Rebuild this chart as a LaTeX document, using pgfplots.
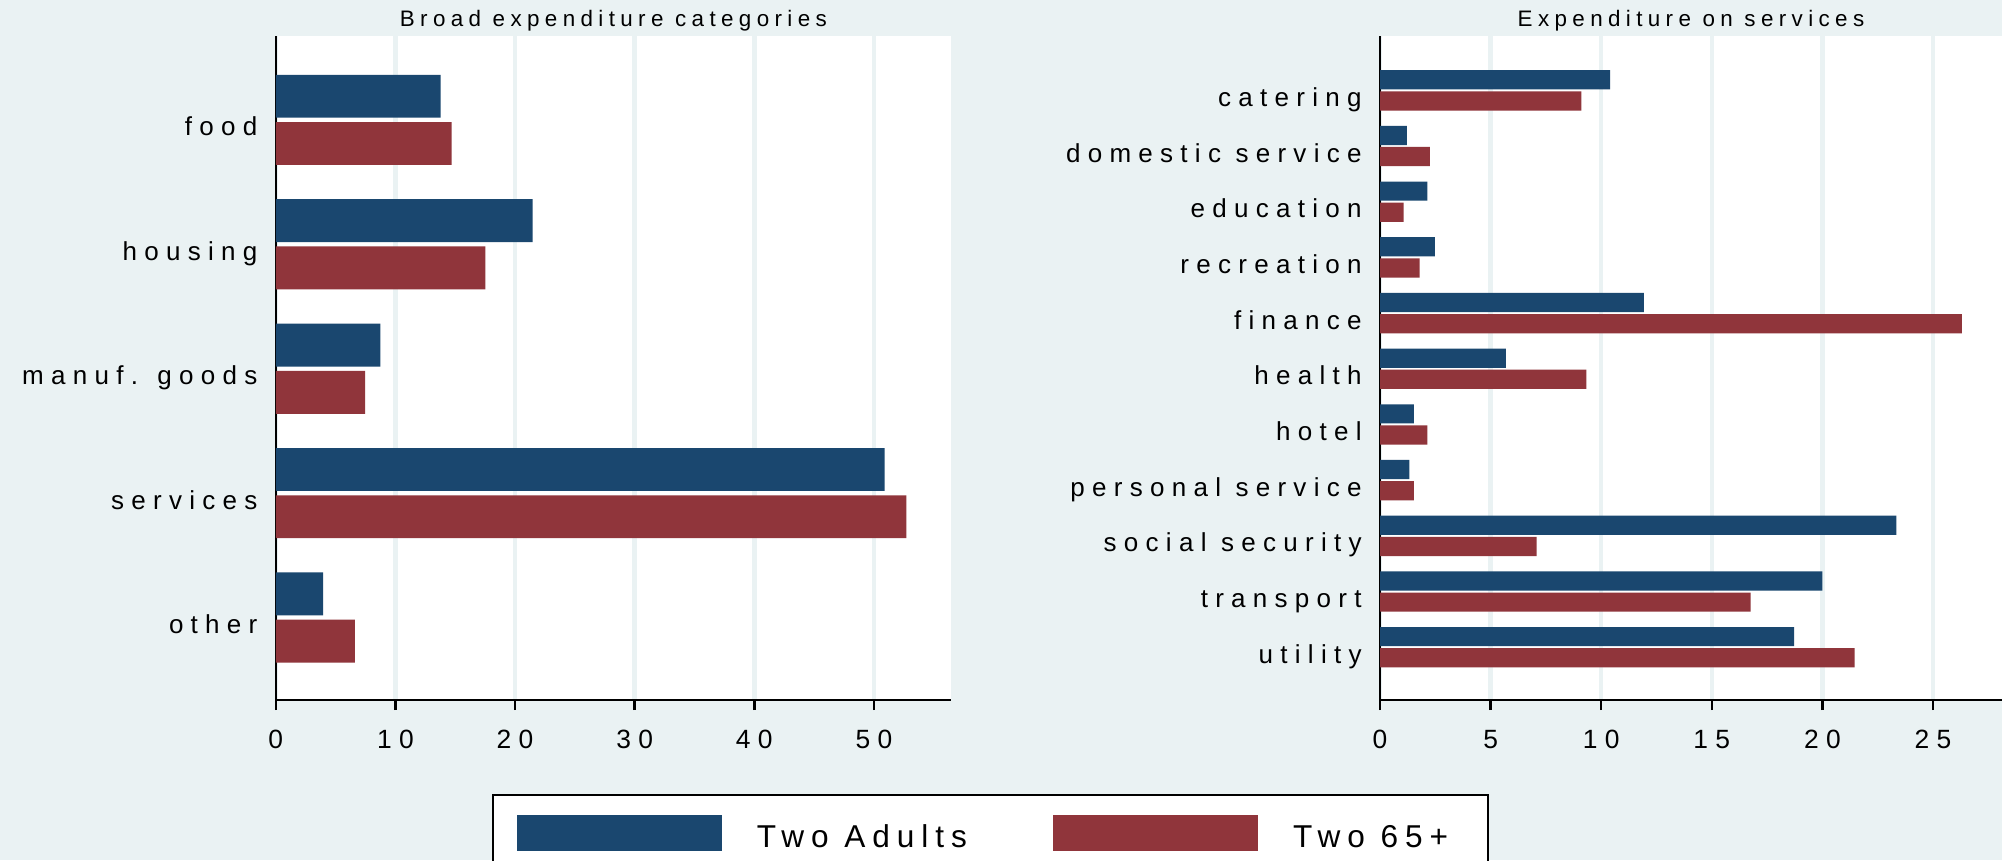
\documentclass[border=0pt]{standalone}
\usepackage{fontspec}
\setmainfont{Liberation Sans}[LetterSpace=28]
\newfontfamily\titfont{Liberation Sans}[LetterSpace=24]
\newfontfamily\legfont{Liberation Sans}[LetterSpace=22]
\usepackage{pgfplots}
\pgfplotsset{compat=1.18}
\definecolor{stnavy}{HTML}{1A476F}
\definecolor{stmaroon}{HTML}{90353B}
\definecolor{stbg}{HTML}{EAF2F3}

\pgfplotsset{
  stpanel/.style={
    scale only axis, height=166pt,
    xbar, y dir=reverse, bar width=0.345,
    enlargelimits=false, xmin=0,
    axis x line*=bottom, axis y line*=left,
    axis line style={-, black},
    x axis line style={line width=0.7pt},
    y axis line style={line width=0.6pt},
    axis background/.style={fill=white},
    xmajorgrids, major grid style={stbg, line width=1.1pt},
    tick align=outside, major tick length=2.5pt,
    xtick style={black, line width=0.6pt},
    ytick style={draw=none},
    /pgf/number format/assume math mode=true,
    xticklabel style={font=\fontsize{6.6}{7.5}\selectfont, anchor=base, inner sep=0pt, yshift=-9.5pt},
    yticklabel style={font=\fontsize{6.5}{7.5}\selectfont, anchor=base east, inner sep=0pt, xshift=-1.9pt, yshift=-4pt},
    every axis title/.style={font=\titfont\fontsize{5.6}{6.5}\selectfont, at={(0.5,1)}, anchor=base, inner sep=0pt, yshift=2.5pt},
  },
}

\begin{document}
\begin{tikzpicture}
\fill[stbg] (0,0) rectangle (500.5pt,215pt);
\useasboundingbox (0,0) rectangle (500.5pt,215pt);

% left panel
\begin{axis}[stpanel,
  at={(68.95pt,40pt)}, anchor=south west,
  width=168.8pt, xmax=56.44,
  ymin=-0.674, ymax=4.663,
  ytick={0,1,2,3,4},
  yticklabels={food, housing, manuf. goods, services, other},
  xtick={0,10,20,30,40,50},
  title={Broad expenditure categories},
  legend columns=2,
  legend cell align=left,
  legend image code/.code={\fill[#1] (0pt,-4.5pt) rectangle (51.25pt,4.5pt);},
  legend style={at={(0.3202,-0.1416)}, anchor=north west,
    draw=black, line width=0.42pt, fill=white,
    inner xsep=6pt, inner ysep=5pt,
    font=\legfont\fontsize{7.9}{9}\selectfont,
    nodes={inner sep=0pt, yshift=-1.6pt},
    /tikz/every odd column/.append style={column sep=8.75pt},
    /tikz/every even column/.append style={column sep=21.5pt}},
]
\addplot[fill=stnavy, draw=none, bar shift=-0.19] coordinates {
  (13.78,0) (21.47,1) (8.74,2) (50.9,3) (3.95,4)
};
\addplot[fill=stmaroon, draw=none, bar shift=0.19] coordinates {
  (14.69,0) (17.52,1) (7.46,2) (52.7,3) (6.62,4)
};
\legend{Two Adults, Two 65+\hspace*{4pt}}
\end{axis}

% right panel
\begin{axis}[stpanel,
  at={(345pt,40pt)}, anchor=south west,
  width=155.5pt, xmax=28.12,
  ymin=-0.975, ymax=10.948,
  ytick={0,1,2,3,4,5,6,7,8,9,10},
  yticklabels={catering, domestic service, education, recreation, finance, health, hotel, personal service, social security, transport, utility},
  xtick={0,5,10,15,20,25},
  title={Expenditure on services},
]
\addplot[fill=stnavy, draw=none, bar shift=-0.19] coordinates {
  (10.4,0) (1.21,1) (2.14,2) (2.48,3) (11.93,4) (5.69,5)
  (1.53,6) (1.33,7) (23.34,8) (20.0,9) (18.72,10)
};
\addplot[fill=stmaroon, draw=none, bar shift=0.19] coordinates {
  (9.1,0) (2.25,1) (1.07,2) (1.79,3) (26.3,4) (9.33,5)
  (2.14,6) (1.53,7) (7.08,8) (16.75,9) (21.46,10)
};
\end{axis}
\end{tikzpicture}
\end{document}
